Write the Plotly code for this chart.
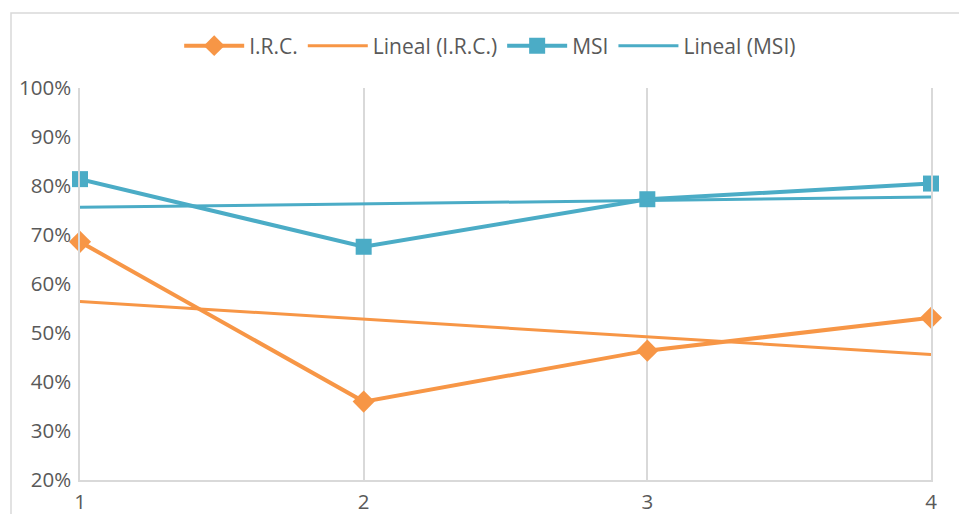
import numpy as np
import plotly.graph_objects as go

# Periods and series values (percent)
periods = [1, 2, 3, 4]
irc = [68.6, 36.0, 46.4, 53.1]
msi = [81.4, 67.6, 77.3, 80.5]
y_ticks = [20, 30, 40, 50, 60, 70, 80, 90, 100]

ORANGE = "#F79646"
BLUE = "#4BACC6"
GRID = "#D9D9D9"
TEXT = "#595959"
FONT = "'Open Sans', sans-serif"


def linear_fit(xs, ys):
    slope, intercept = np.polyfit(xs, ys, 1)
    return [slope * x + intercept for x in xs]


fig = go.Figure()

fig.add_trace(go.Scatter(
    x=periods, y=irc, name="I.R.C.", mode="lines+markers", cliponaxis=False,
    line=dict(color=ORANGE, width=4),
    marker=dict(symbol="diamond", size=17, color=ORANGE),
))
fig.add_trace(go.Scatter(
    x=periods, y=linear_fit(periods, irc), name="Lineal (I.R.C.)", mode="lines",
    cliponaxis=False, line=dict(color=ORANGE, width=3),
))
fig.add_trace(go.Scatter(
    x=periods, y=msi, name="MSI", mode="lines+markers", cliponaxis=False,
    line=dict(color=BLUE, width=4),
    marker=dict(symbol="square", size=16, color=BLUE),
))
fig.add_trace(go.Scatter(
    x=periods, y=linear_fit(periods, msi), name="Lineal (MSI)", mode="lines",
    cliponaxis=False, line=dict(color=BLUE, width=3),
))

# Chart-area border
fig.add_shape(
    type="rect", xref="paper", yref="paper",
    x0=(11 - 80) / 851, x1=1.2, y0=-0.3, y1=(480 - 13) / 392,
    line=dict(color=GRID, width=1.5), fillcolor="rgba(0,0,0,0)", layer="below",
)

fig.update_layout(
    width=959, height=514,
    margin=dict(l=80, r=28, t=88, b=34),
    paper_bgcolor="white", plot_bgcolor="white",
    font=dict(family=FONT, size=20.5, color=TEXT),
    showlegend=True,
    legend=dict(
        orientation="h", x=0.482, xanchor="center", y=(480 - 46) / 392, yanchor="middle",
        font=dict(family=FONT, size=21, color=TEXT), itemwidth=60,
        bgcolor="rgba(0,0,0,0)",
    ),
    xaxis=dict(
        range=[1, 4], tickvals=periods, ticktext=[str(p) for p in periods],
        showgrid=True, gridcolor=GRID, gridwidth=1.5,
        showline=True, linecolor=GRID, linewidth=1.5,
        zeroline=False, ticks="", ticklabelstandoff=3, automargin=False,
    ),
    yaxis=dict(
        range=[20, 100], tickvals=y_ticks, ticktext=[f"{v}%" for v in y_ticks],
        showgrid=False, zeroline=False, ticks="",
        showline=True, mirror=True, linecolor=GRID, linewidth=1.5,
        ticklabelstandoff=3, automargin=False,
    ),
)

fig.write_html("out.html")
